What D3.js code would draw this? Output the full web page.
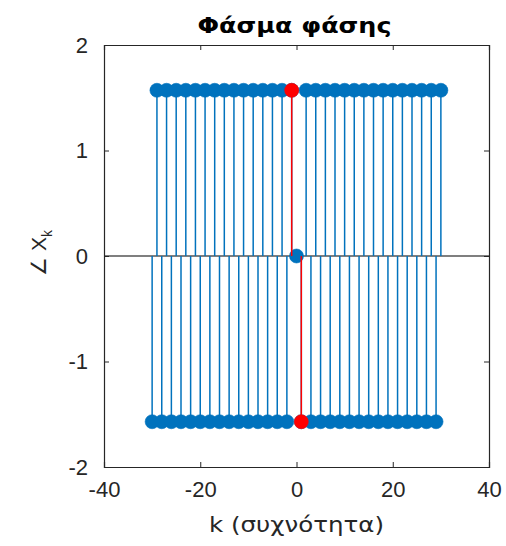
<!DOCTYPE html>
<html>
<head>
<meta charset="utf-8">
<script src="https://cdn.jsdelivr.net/npm/d3@7"></script>
<style>
  body { margin: 0; background: #fff; }
  text { font-family: "Liberation Sans", Arial, sans-serif; }
</style>
</head>
<body>
<div id="chart"></div>
<script>
var width = 506,
    height = 546,
    margin = {top: 45, right: 17, bottom: 79, left: 104};

var P = 1.5708;

// harmonic index k and phase of X_k
var kValues = [-30, -29, -28, -27, -26, -25, -24, -23, -22, -21, -20, -19, -18, -17, -16, -15,
  -14, -13, -12, -11, -10, -9, -8, -7, -6, -5, -4, -3, -2, -1, 0,
  1, 2, 3, 4, 5, 6, 7, 8, 9, 10, 11, 12, 13, 14, 15,
  16, 17, 18, 19, 20, 21, 22, 23, 24, 25, 26, 27, 28, 29, 30];
var phaseValues = [-P, P, -P, P, -P, P, -P, P, -P, P, -P, P, -P, P, -P, P,
  -P, P, -P, P, -P, P, -P, P, -P, P, -P, P, -P, P, 0,
  -P, P, -P, P, -P, P, -P, P, -P, P, -P, P, -P, P, -P,
  P, -P, P, -P, P, -P, P, -P, P, -P, P, -P, P, -P, P];

// the fundamental, drawn in red
var redK = [-1, 1];
var redPhase = [P, -P];

var xTicks = [-40, -20, 0, 20, 40];
var yTicks = [-2, -1, 0, 1, 2];

var blue = "#0072BD", red = "#FF0000";

var data = kValues.map(function(k, i) { return {k: k, v: phaseValues[i]}; });
var redData = redK.map(function(k, i) { return {k: k, v: redPhase[i]}; });

var svg = d3.select("#chart").append("svg")
    .attr("width", width)
    .attr("height", height);

var x = d3.scaleLinear().domain([-40, 40]).range([margin.left, width - margin.right]);
var y = d3.scaleLinear().domain([-2, 2]).range([height - margin.bottom, margin.top]);

var g = svg.append("g");

// baseline
g.append("line")
  .attr("x1", x(-40)).attr("x2", x(40))
  .attr("y1", y(0)).attr("y2", y(0))
  .style("stroke", "#000").style("stroke-width", 1.2);

function drawStems(arr, color) {
  g.append("g").selectAll("line")
    .data(arr)
    .enter()
    .append("line")
    .attr("x1", function(d) { return x(d.k); })
    .attr("x2", function(d) { return x(d.k); })
    .attr("y1", y(0))
    .attr("y2", function(d) { return y(d.v); })
    .style("stroke", color)
    .style("stroke-width", 1.5);
  g.append("g").selectAll("circle")
    .data(arr)
    .enter()
    .append("circle")
    .attr("cx", function(d) { return x(d.k); })
    .attr("cy", function(d) { return y(d.v); })
    .attr("r", 7)
    .style("fill", color)
    .style("stroke", color)
    .style("stroke-width", 0.6);
}

drawStems(data, blue);
drawStems(redData, red);

// axes, MATLAB box style
var axisColor = "#262626";
var fmt = function(d) { return String(d); };
var xAxisB = d3.axisBottom(x).tickValues(xTicks).tickSize(-5).tickPadding(14).tickFormat(fmt);
var xAxisT = d3.axisTop(x).tickValues(xTicks).tickSize(-5).tickFormat("");
var yAxisL = d3.axisLeft(y).tickValues(yTicks).tickSize(-5).tickPadding(16).tickFormat(fmt);
var yAxisR = d3.axisRight(y).tickValues(yTicks).tickSize(-5).tickFormat("");

function styleAxis(sel) {
  sel.select(".domain").attr("stroke", axisColor).attr("stroke-width", 1.2);
  sel.selectAll(".tick line").attr("stroke", axisColor);
  sel.selectAll(".tick text")
    .attr("fill", axisColor)
    .style("font-family", "'Liberation Sans', Arial, sans-serif")
    .style("font-size", "22px");
}

svg.append("g").attr("transform", "translate(0," + y(-2) + ")").call(xAxisB).call(styleAxis);
svg.append("g").attr("transform", "translate(0," + y(2) + ")").call(xAxisT).call(styleAxis);
svg.append("g").attr("transform", "translate(" + x(-40) + ",0)").call(yAxisL).call(styleAxis);
svg.append("g").attr("transform", "translate(" + x(40) + ",0)").call(yAxisR).call(styleAxis);

// remove outer tick marks that sit on the box corners
svg.selectAll(".tick line").filter(function(d) { return d === -40 || d === 40 || d === -2 || d === 2; }).remove();

// title
svg.append("text")
  .attr("x", x(0) - 2)
  .attr("y", 33)
  .attr("text-anchor", "middle")
  .attr("textLength", 194)
  .attr("lengthAdjust", "spacingAndGlyphs")
  .style("font-family", "'DejaVu Sans', sans-serif")
  .style("font-size", "22px")
  .style("font-weight", "bold")
  .style("fill", "#000")
  .text("Φάσμα φάσης");

// x label
svg.append("text")
  .attr("x", x(0))
  .attr("y", 532)
  .attr("text-anchor", "middle")
  .attr("textLength", 175)
  .attr("lengthAdjust", "spacingAndGlyphs")
  .style("font-family", "'DejaVu Sans', sans-serif")
  .style("font-size", "21px")
  .style("fill", axisColor)
  .text("k (συχνότητα)");

// y label
var yl = svg.append("text")
  .attr("transform", "translate(46,253) rotate(-90)")
  .attr("text-anchor", "middle")
  .style("font-size", "21px")
  .style("fill", axisColor);
yl.append("tspan").text("∠ X");
yl.append("tspan").attr("dy", 6).style("font-size", "14px").text("k");
</script>
</body>
</html>
